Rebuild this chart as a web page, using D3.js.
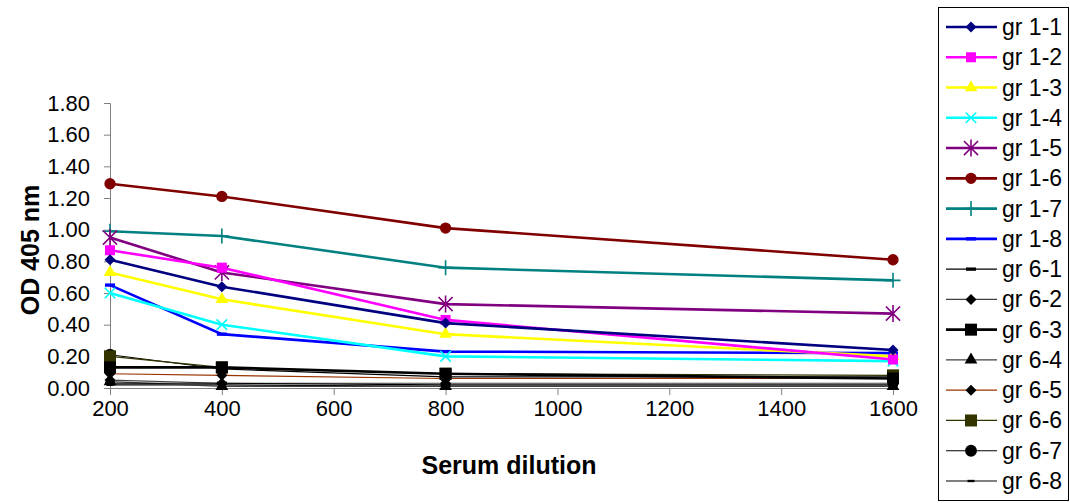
<!DOCTYPE html>
<html>
<head>
<meta charset="utf-8">
<script src="https://cdn.jsdelivr.net/npm/d3@7"></script>
<style>
  html, body { margin: 0; padding: 0; background: #fff; }
  svg { display: block; font-family: Arial, "Liberation Sans", sans-serif; }
</style>
</head>
<body>
<svg id="chart" width="1070" height="503"></svg>
<script>
// x values (serum dilution)
const dilutions = [200, 400, 800, 1600];
const xTicks = [200, 400, 600, 800, 1000, 1200, 1400, 1600];
const yTicks = [0, 0.2, 0.4, 0.6, 0.8, 1.0, 1.2, 1.4, 1.6, 1.8];

const seriesNames = ["gr 1-1", "gr 1-2", "gr 1-3", "gr 1-4", "gr 1-5", "gr 1-6", "gr 1-7", "gr 1-8",
  "gr 6-1", "gr 6-2", "gr 6-3", "gr 6-4", "gr 6-5", "gr 6-6", "gr 6-7", "gr 6-8"];

// OD 405 nm readings, one array per group
const gr11 = [0.81, 0.64, 0.41, 0.24];
const gr12 = [0.87, 0.76, 0.43, 0.18];
const gr13 = [0.73, 0.56, 0.34, 0.20];
const gr14 = [0.60, 0.40, 0.20, 0.17];
const gr15 = [0.95, 0.73, 0.53, 0.47];
const gr16 = [1.29, 1.21, 1.01, 0.81];
const gr17 = [0.99, 0.96, 0.76, 0.68];
const gr18 = [0.65, 0.34, 0.23, 0.22];
const gr61 = [0.03, 0.03, 0.02, 0.02];
const gr62 = [0.05, 0.03, 0.03, 0.03];
const gr63 = [0.13, 0.13, 0.09, 0.06];
const gr64 = [0.04, 0.01, 0.01, 0.01];
const gr65 = [0.09, 0.08, 0.06, 0.06];
const gr66 = [0.20, 0.13, 0.09, 0.08];
const gr67 = [0.21, 0.12, 0.07, 0.07];
const gr68 = [0.02, 0.02, 0.01, 0.01];

const seriesValues = [gr11, gr12, gr13, gr14, gr15, gr16, gr17, gr18,
  gr61, gr62, gr63, gr64, gr65, gr66, gr67, gr68];

// custom marker shapes (stroked ones)
const symPlus = {
  draw(ctx, size) {
    const r = Math.sqrt(size) / 2;
    ctx.moveTo(-r, 0); ctx.lineTo(r, 0);
    ctx.moveTo(0, -r); ctx.lineTo(0, r);
  }
};
const symX = {
  draw(ctx, size) {
    const r = Math.sqrt(size) / 2;
    ctx.moveTo(-r, -r); ctx.lineTo(r, r);
    ctx.moveTo(-r, r); ctx.lineTo(r, -r);
  }
};
const symStar = {
  draw(ctx, size) {
    const r = Math.sqrt(size) / 2;
    ctx.moveTo(-r, -r); ctx.lineTo(r, r);
    ctx.moveTo(-r, r); ctx.lineTo(r, -r);
    ctx.moveTo(0, -r * 1.2); ctx.lineTo(0, r * 1.2);
  }
};
const symDash = {
  draw(ctx, size) {
    const r = Math.sqrt(size) / 2;
    ctx.rect(-r, -r / 3, 2 * r, r * 2 / 3);
  }
};
const symDiamond = {
  draw(ctx, size) {
    const r = Math.sqrt(size) / 2;
    ctx.moveTo(0, -r); ctx.lineTo(r, 0); ctx.lineTo(0, r); ctx.lineTo(-r, 0); ctx.closePath();
  }
};

// style per series: line colour, width, marker type, marker size, marker colour, stroked marker?
const styles = [
  { color: "#000080", width: 2.6, sym: symDiamond, size: 121, mcolor: "#000080" },
  { color: "#FF00FF", width: 2.6, sym: d3.symbolSquare, size: 100, mcolor: "#FF00FF" },
  { color: "#FFFF00", width: 2.6, sym: d3.symbolTriangle, size: 70, mcolor: "#FFFF00" },
  { color: "#00FFFF", width: 2.6, sym: symX, size: 110, mcolor: "#00FFFF", stroked: true },
  { color: "#800080", width: 2.6, sym: symStar, size: 200, mcolor: "#800080", stroked: true },
  { color: "#800000", width: 2.6, sym: d3.symbolCircle, size: 100, mcolor: "#800000" },
  { color: "#008080", width: 2.6, sym: symPlus, size: 225, mcolor: "#008080", stroked: true },
  { color: "#0000FF", width: 2.6, sym: symDash, size: 100, mcolor: "#0000FF" },
  { color: "#000000", width: 1.2, sym: symDash, size: 100, mcolor: "#000000" },
  { color: "#404040", width: 1.2, sym: symDiamond, size: 121, mcolor: "#000000" },
  { color: "#000000", width: 2.6, sym: d3.symbolSquare, size: 144, mcolor: "#000000" },
  { color: "#404040", width: 1.2, sym: d3.symbolTriangle, size: 70, mcolor: "#000000" },
  { color: "#993300", width: 1.2, sym: symDiamond, size: 121, mcolor: "#000000" },
  { color: "#333300", width: 1.2, sym: d3.symbolSquare, size: 144, mcolor: "#333300" },
  { color: "#000000", width: 1.2, sym: d3.symbolCircle, size: 110, mcolor: "#000000" },
  { color: "#000000", width: 1.2, sym: symDash, size: 49, mcolor: "#000000" }
];

const svg = d3.select("#chart");

const x = d3.scaleLinear().domain([200, 1600]).range([110, 893]);
const y = d3.scaleLinear().domain([0, 1.8]).range([388, 103]);

// y axis
const yAxis = svg.append("g")
  .attr("transform", `translate(${x(200)},0)`)
  .call(d3.axisLeft(y).tickValues(yTicks).tickFormat(d3.format(".2f")).tickSize(6).tickPadding(14));
yAxis.select(".domain").attr("stroke", "#808080");
yAxis.selectAll(".tick line").attr("stroke", "#808080");
yAxis.selectAll(".tick text").attr("font-size", 22).attr("fill", "#000")
  .attr("font-family", "Arial, 'Liberation Sans', sans-serif");

// x axis
const xAxis = svg.append("g")
  .attr("transform", `translate(0,${y(0)})`)
  .call(d3.axisBottom(x).tickValues(xTicks).tickFormat(d3.format("d")).tickSize(7).tickSizeOuter(0).tickPadding(5));
xAxis.select(".domain").attr("stroke", "#808080");
xAxis.selectAll(".tick line").attr("stroke", "#808080");
xAxis.selectAll(".tick text").attr("font-size", 22).attr("fill", "#000")
  .attr("font-family", "Arial, 'Liberation Sans', sans-serif");

// axis titles
svg.append("text")
  .attr("x", 509).attr("y", 474)
  .attr("text-anchor", "middle")
  .attr("font-size", 25).attr("font-weight", "bold")
  .text("Serum dilution");

svg.append("text")
  .attr("transform", "translate(39,250) rotate(-90)")
  .attr("text-anchor", "middle")
  .attr("font-size", 25).attr("font-weight", "bold")
  .text("OD 405 nm");

const line = d3.line().x(d => x(d[0])).y(d => y(d[1]));

function drawMarker(sel, st) {
  sel.attr("d", d3.symbol(st.sym, st.size)());
  if (st.stroked) {
    sel.attr("fill", "none").attr("stroke", st.mcolor).attr("stroke-width", 1.6);
  } else {
    sel.attr("fill", st.mcolor).attr("stroke", "none");
  }
}

// draw series, last first so gr 1-x lie on top
const plot = svg.append("g");
d3.range(seriesNames.length).reverse().forEach(i => {
  const st = styles[i];
  const pts = dilutions.map((d, j) => [d, seriesValues[i][j]]);
  const g = plot.append("g");
  g.append("path")
    .attr("d", line(pts))
    .attr("fill", "none")
    .attr("stroke", st.color)
    .attr("stroke-width", st.width);
  g.selectAll("path.m")
    .data(pts)
    .join("path")
    .attr("class", "m")
    .attr("transform", d => `translate(${x(d[0])},${y(d[1])})`)
    .call(drawMarker, st);
});

// legend
const legend = svg.append("g");
legend.append("rect")
  .attr("x", 938.5).attr("y", 7.5)
  .attr("width", 130).attr("height", 493)
  .attr("fill", "#fff").attr("stroke", "#000").attr("stroke-width", 1);

const ly = d3.scalePoint().domain(seriesNames).range([27, 481]);
const items = legend.selectAll("g.item")
  .data(seriesNames)
  .join("g")
  .attr("class", "item")
  .attr("transform", d => `translate(0,${ly(d)})`);

items.append("line")
  .attr("x1", 946).attr("x2", 997)
  .attr("stroke", (d, i) => styles[i].color)
  .attr("stroke-width", (d, i) => styles[i].width);

items.append("path")
  .attr("transform", "translate(971,0)")
  .each(function (d, i) { d3.select(this).call(drawMarker, styles[i]); });

items.append("text")
  .attr("x", 1002).attr("y", 8)
  .attr("font-size", 23)
  .text(d => d);
</script>
</body>
</html>
